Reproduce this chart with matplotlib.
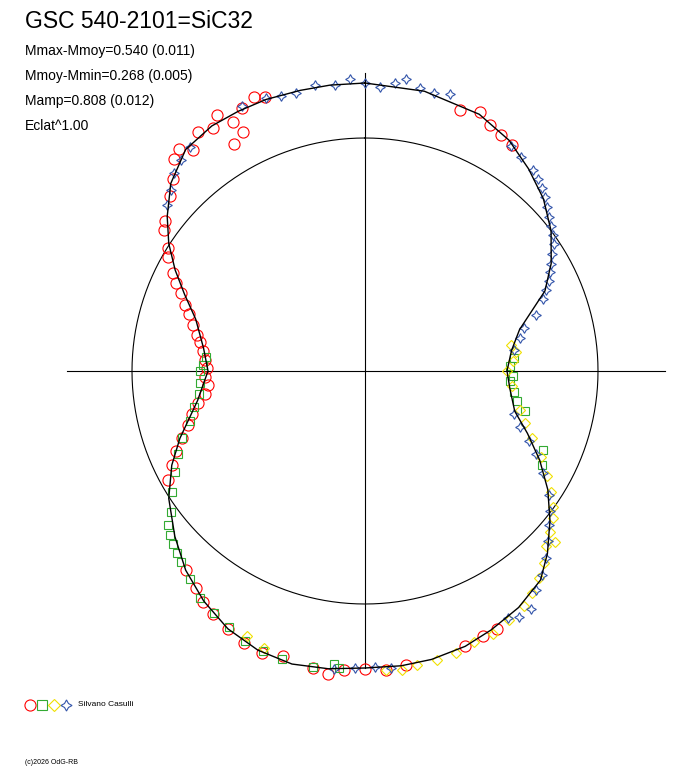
import numpy as np
import matplotlib
matplotlib.use("Agg")
import matplotlib.pyplot as plt

plt.rcParams['font.family'] = ['Liberation Sans', 'DejaVu Sans']

title = "GSC 540-2101=SiC32"
info = ["Mmax-Mmoy=0.540 (0.011)", "Mmoy-Mmin=0.268 (0.005)", "Mamp=0.808 (0.012)", "Eclat^1.00"]
observer = "Silvano Casulli"
credit = "(c)2026 OdG-RB"

# fitted curve: phase angle (deg, clockwise from top) and radius
curve_deg = [0, 12, 24, 32, 39, 46, 53, 60, 66, 75, 82, 90, 97, 105, 111, 117, 123, 129, 135, 140, 147, 154, 160, 167, 173, 180,
             187, 194, 201, 208, 215, 222, 229, 237, 244, 250, 260, 270, 278, 287, 293, 298, 303, 308, 314, 321, 328, 334, 340, 347, 353]
curve_r = [288, 286, 281, 272, 260, 248, 233, 215, 197, 160, 148, 142, 146, 155, 174, 196, 218, 238, 258, 273, 282, 288, 293, 296, 297, 297,
           300, 302, 299, 292, 281, 268, 252, 234, 215, 197, 170, 157, 163, 177, 196, 215, 234, 251, 270, 285, 289, 289, 289, 288, 288]
ref_r = 233

red_deg = [20, 24, 27, 30, 33, 318, 320, 322, 325, 328, 330, 332, 335, 338, 340, 330, 333,
           307, 305, 302, 300, 297, 295, 293, 290, 288, 285, 282, 280, 277, 274, 271, 268, 265, 262, 259, 256, 253, 250, 247, 244, 241, 312, 315,
           200, 204, 208, 212, 215, 218, 222, 190, 187, 184, 180, 176, 172, 196, 160, 156, 153]
red_r = [278, 283, 276, 272, 270, 285, 290, 280, 292, 286, 296, 282, 290, 295, 292, 262, 268,
         250, 245, 232, 228, 215, 208, 200, 192, 185, 178, 172, 168, 163, 160, 158, 160, 158, 162, 170, 178, 185, 195, 205, 215, 225, 262, 272,
         300, 298, 292, 287, 282, 275, 268, 302, 305, 300, 298, 300, 297, 296, 293, 290, 290]

blue_deg = [335, 340, 343, 346, 350, 354, 357, 0, 3, 6, 8, 11, 14, 17, 40, 42, 44, 46, 48, 50, 52, 54, 56, 58, 60, 62, 64, 66, 68, 72, 75, 78, 82,
            106, 110, 113, 116, 120, 124, 127, 130, 133, 136, 139, 142, 145, 148, 150, 175, 178, 182, 186, 36, 33, 310, 313, 316, 319, 322]
blue_r = [292, 290, 288, 286, 290, 288, 292, 288, 284, 290, 295, 288, 286, 290, 262, 258, 255, 250, 245, 240, 236, 232, 228, 220, 215, 210, 205, 198, 192, 180, 165, 158, 150,
          155, 165, 178, 190, 205, 222, 232, 240, 250, 260, 270, 278, 290, 290, 285, 298, 296, 297, 300, 265, 268, 258, 265, 275, 280, 284]

green_deg = [275, 272, 270, 266, 262, 258, 254, 250, 246, 242, 238, 234, 232, 230, 228, 226, 224, 220, 216, 212, 208, 204, 200, 196, 190, 185,
             94, 98, 101, 104, 92, 88, 85, 114, 118, 186]
green_r = [160, 162, 165, 165, 168, 175, 182, 195, 205, 215, 228, 240, 250, 255, 258, 262, 265, 272, 280, 285, 290, 296, 298, 300, 301, 298,
           145, 150, 155, 165, 148, 145, 150, 195, 200, 295]

yellow_deg = [80, 83, 86, 90, 96, 104, 108, 112, 116, 120, 123, 126, 128, 131, 134, 137, 140, 143, 146, 150, 154, 158, 162, 166, 170, 173, 176, 200, 204, 132]
yellow_r = [148, 152, 148, 142, 148, 160, 168, 180, 196, 210, 222, 232, 238, 245, 252, 262, 270, 278, 284, 288, 293, 292, 296, 298, 299, 301, 300, 295, 290, 255]

CX, CY = 365, 371

def xy(deg, r):
    t = np.radians(np.asarray(deg, float))
    r = np.asarray(r, float)
    return CX + r * np.sin(t), CY - r * np.cos(t)

fig = plt.figure(figsize=(6.88, 7.68), dpi=100)
ax = fig.add_axes([0, 0, 1, 1])
ax.set_xlim(0, 688)
ax.set_ylim(768, 0)
ax.axis('off')

ax.plot([67, 665], [CY, CY], color='black', lw=0.8)
ax.plot([CX, CX], [73, 668], color='black', lw=0.8)
tt = np.linspace(0, 360, 361)
x, y = xy(tt, np.full_like(tt, ref_r))
ax.plot(x, y, color='black', lw=0.8)

ms = dict(lw=0, markerfacecolor='none', markeredgewidth=0.8)
x, y = xy(red_deg, red_r)
ax.plot(x, y, 'o', color='#ff0000', ms=8, **ms)
x, y = xy(green_deg, green_r)
ax.plot(x, y, 's', color='#33aa33', ms=6, **ms)
x, y = xy(yellow_deg, yellow_r)
ax.plot(x, y, 'D', color='#f0e000', ms=5.5, **ms)
x, y = xy(blue_deg, blue_r)
ax.plot(x, y, marker=(4, 1, 0), color='#3355aa', ms=7, **ms)

cd = curve_deg + [curve_deg[0] + 360]
cr = curve_r + [curve_r[0]]
x, y = xy(cd, cr)
ax.plot(x, y, color='black', lw=1.0)

ax.text(25, 22, title, fontsize=16.5, va='center', ha='left')
for i, s in enumerate(info):
    ax.text(25, 51 + 25 * i, s, fontsize=10, va='center', ha='left')

lx = [30, 42, 54, 66]
ax.plot(lx[0], 705, 'o', color='#ff0000', ms=8, **ms)
ax.plot(lx[1], 705, 's', color='#33aa33', ms=7, **ms)
ax.plot(lx[2], 705, 'D', color='#f0e000', ms=6.5, **ms)
ax.plot(lx[3], 705, marker=(4, 1, 0), color='#3355aa', ms=8, **ms)
ax.text(78, 705, observer, fontsize=6, va='center', ha='left')
ax.text(25, 762, credit, fontsize=5, va='center', ha='left')

fig.savefig("out.png", dpi=100)
